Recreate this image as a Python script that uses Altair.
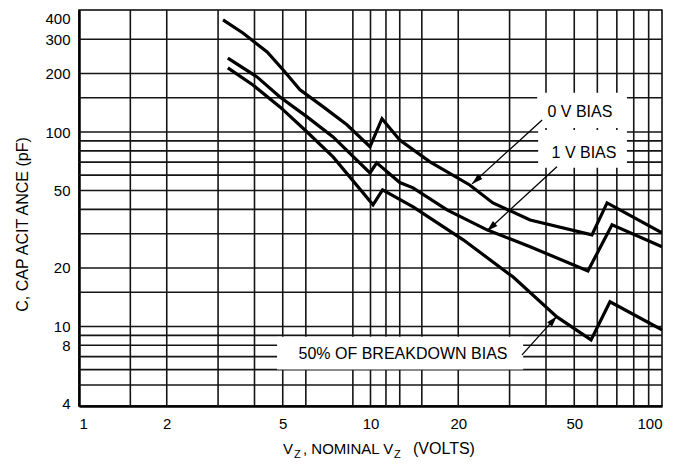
import altair as alt
import pandas as pd

# ---- data ----
v0_x = [3.12, 3.65, 4.42, 5.01, 5.73, 6.87, 8.30, 9.96, 10.95, 12.6, 16.0, 21.9, 26.3, 35.3, 57.5, 64.8, 100]
v0_y = [377, 323, 258, 209, 165, 135, 109, 84, 117, 91, 70.2, 53.4, 43.2, 35.3, 29.6, 43.2, 30.3]
v1_x = [3.24, 4.08, 4.89, 6.06, 7.44, 9.96, 10.5, 12.6, 14.0, 18.3, 25.1, 35.3, 55.7, 67.4, 100]
v1_y = [240, 192, 151.5, 119.6, 94.4, 61.6, 69.4, 55, 51.6, 39.8, 31.4, 25.7, 19.3, 33.3, 25.7]
b50_x = [3.24, 3.95, 4.89, 6.06, 7.44, 10.2, 11.0, 14.0, 20.8, 30.8, 43.6, 57.1, 66.3, 100]
b50_y = [213.6, 174.6, 134.6, 100, 74.5, 42.2, 50.4, 41.2, 27.9, 18.0, 11.2, 8.53, 13.4, 9.6]

x_ticks = [1, 2, 5, 10, 20, 50, 100]
y_ticks = [4, 8, 10, 20, 50, 100, 200, 300, 400]
x_grid = [1.5, 2, 3, 4, 5, 6, 8.7, 10, 11.3, 12.6, 15, 20, 30, 40, 50, 60, 70, 80, 90]
y_grid = [5, 6, 7, 8, 9, 10, 15, 20, 30, 40, 50, 60, 70, 80, 90, 100, 150, 200, 300]

ann_text = ["0 V BIAS", "1 V BIAS", "50% OF BREAKDOWN BIAS"]
ann_x = [52.3, 54.0, 12.93]
ann_y = [126.9, 78.1, 7.23]
box_x1 = [37.3, 37.6, 4.78]
box_x2 = [75.8, 75.8, 33.4]
box_y1 = [104.9, 65.4, 6.0]
box_y2 = [159, 102.5, 8.85]
arr_x1 = [38.8, 43.6, 33.1]
arr_y1 = [115.4, 66.2, 7.14]
arr_x2 = [22.3, 25.1, 43.6]
arr_y2 = [54.1, 31.0, 11.3]
arr_angle = [227.6, 227.6, 41.9]

# ---- tables ----
rows = []
for name, xs_, ys_ in [("0 V", v0_x, v0_y), ("1 V", v1_x, v1_y), ("50%", b50_x, b50_y)]:
    for i, (a, b) in enumerate(zip(xs_, ys_)):
        rows.append({"s": name, "o": i, "x": a, "y": b})
curves = pd.DataFrame(rows)
ann = pd.DataFrame({"t": ann_text, "x": ann_x, "y": ann_y,
                    "bx1": box_x1, "bx2": box_x2, "by1": box_y1, "by2": box_y2,
                    "ax1": arr_x1, "ay1": arr_y1, "ax2": arr_x2, "ay2": arr_y2, "a": arr_angle})
xg = pd.DataFrame({"v": x_grid})
yg = pd.DataFrame({"v": y_grid})

FONT = "Liberation Sans"
xs = alt.Scale(type="log", domain=[1, 100], nice=False)
ys = alt.Scale(type="log", domain=[3.9, 424], nice=False)

x_axis = alt.Axis(values=x_ticks, format="d", title=None, grid=False, ticks=False,
                  tickSize=0, labelPadding=10, labelFontSize=15, labelFont=FONT,
                  labelColor="black", domainColor="black", domainWidth=2.5)
y_axis = alt.Axis(values=y_ticks, format="d", title="C, CAP ACIT ANCE (pF)",
                  grid=False, ticks=False, tickSize=0, labelPadding=9,
                  labelFontSize=15, labelFont=FONT, labelColor="black",
                  labelOffset={"condition": {"test": "datum.value >= 400", "value": 4}, "value": 0},
                  domainColor="black", domainWidth=2.5,
                  titleFont=FONT, titleFontSize=16, titleFontWeight="normal",
                  titleColor="black", titleAngle=270, titleX=-57, titleY=214,
                  titleAlign="center", titleBaseline="middle")

grid_x = alt.Chart(xg).mark_rule(color="#151515", strokeWidth=1.6).encode(
    x=alt.X("v:Q", scale=xs, axis=x_axis))
grid_y = alt.Chart(yg).mark_rule(color="#151515", strokeWidth=1.6).encode(
    y=alt.Y("v:Q", scale=ys, axis=y_axis))

boxes = alt.Chart(ann).mark_rect(color="white").encode(
    x=alt.X("bx1:Q", scale=xs, axis=x_axis), x2="bx2:Q",
    y=alt.Y("by1:Q", scale=ys, axis=y_axis), y2="by2:Q")

lines = alt.Chart(curves).mark_line(color="black", strokeWidth=3.2, clip=True).encode(
    x=alt.X("x:Q", scale=xs, axis=x_axis),
    y=alt.Y("y:Q", scale=ys, axis=y_axis),
    detail="s:N", order="o:Q")

arrows = alt.Chart(ann).mark_rule(color="black", strokeWidth=1.3).encode(
    x=alt.X("ax1:Q", scale=xs, axis=x_axis), y=alt.Y("ay1:Q", scale=ys, axis=y_axis),
    x2="ax2:Q", y2="ay2:Q")
heads = alt.Chart(ann).mark_point(shape="M0,0L-0.6,2L0.6,2Z", filled=True, size=121,
                                  color="black", opacity=1).encode(
    x=alt.X("ax2:Q", scale=xs, axis=x_axis), y=alt.Y("ay2:Q", scale=ys, axis=y_axis),
    angle=alt.Angle("a:Q", scale=None))
labels = alt.Chart(ann).mark_text(font=FONT, fontSize=16, color="black").encode(
    x=alt.X("x:Q", scale=xs, axis=x_axis), y=alt.Y("y:Q", scale=ys, axis=y_axis), text="t:N")

# x-axis title with subscripts (plot-area pixel positions)
def piece(txt, px, py, size):
    return alt.Chart(alt.Data(values=[{}])).mark_text(
        text=txt, font=FONT, fontSize=size, align="left", baseline="alphabetic",
        color="black").encode(x=alt.value(px), y=alt.value(py))

title_layers = [
    piece("V", 204, 444, 15),
    piece("Z", 215, 448, 11),
    piece(", NOMINAL V", 224, 444, 15),
    piece("Z", 315, 448, 11),
    piece("(VOLTS)", 334, 444, 16),
]

chart = alt.layer(grid_x, grid_y, boxes, lines, arrows, heads, labels, *title_layers).properties(
    width=583, height=396,
    autosize=alt.AutoSizeParams(type="none"),
    padding={"left": 71, "top": 2, "right": 8, "bottom": 54},
).configure_view(stroke="black", strokeWidth=1.5)

chart.save("out.html", embed_options={"renderer": "svg", "actions": False})
